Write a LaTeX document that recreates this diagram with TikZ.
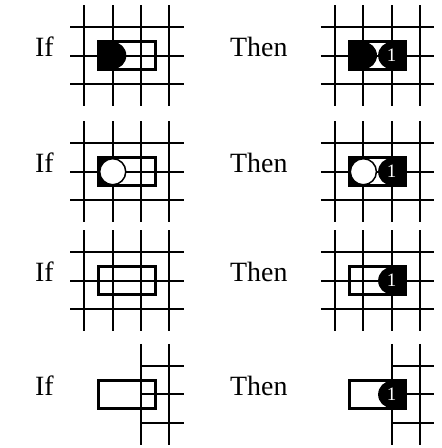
\documentclass[tikz,border=0pt]{standalone}
\usepackage{fontspec}
\setmainfont{Liberation Serif}

\begin{document}
\begin{tikzpicture}[
    gridline/.style={line width=2pt},
    domino/.style={line width=3pt},
    rowtext/.style={anchor=base west, inner sep=0pt, font=\fontsize{28}{28}\selectfont},
    onetext/.style={text=white, inner sep=0pt, font=\fontsize{19}{19}\selectfont}
]
    % Fix the page size
    \useasboundingbox (0,0) rectangle (15.56,-15.80);

    % Draw the texts
    \node[rowtext] (if1) at (1.23,-2.00) {If};
    \node[rowtext] (then1) at (8.11,-2.00) {Then};
    \node[rowtext] (if2) at (1.23,-6.10) {If};
    \node[rowtext] (then2) at (8.11,-6.10) {Then};
    \node[rowtext] (if3) at (1.23,-9.94) {If};
    \node[rowtext] (then3) at (8.11,-9.94) {Then};
    \node[rowtext] (if4) at (1.23,-13.95) {If};
    \node[rowtext] (then4) at (8.11,-13.95) {Then};

    % Draw the full grids of rows 1 to 3
    \foreach \xa/\xb in {2.475/6.475, 11.315/15.315} {
        \foreach \ya/\ym/\yb in {-0.178/-1.958/-3.738, -4.276/-6.056/-7.836, -8.12/-9.90/-11.68} {
            \draw[gridline] (\xa+0.5,\ya) -- (\xa+0.5,\yb);
            \draw[gridline] (\xa+1.5,\ya) -- (\xa+1.5,\yb);
            \draw[gridline] (\xa+2.5,\ya) -- (\xa+2.5,\yb);
            \draw[gridline] (\xa+3.5,\ya) -- (\xa+3.5,\yb);
            \draw[gridline] (\xa,\ym+1) -- (\xb,\ym+1);
            \draw[gridline] (\xa,\ym) -- (\xb,\ym);
            \draw[gridline] (\xa,\ym-1) -- (\xb,\ym-1);
        }
    }

    % Draw the right part of the grids of row 4
    \foreach \xa/\xb in {4.975/6.475, 13.815/15.315} {
        \draw[gridline] (\xa,-12.13) -- (\xa,-15.69);
        \draw[gridline] (\xa+1,-12.13) -- (\xa+1,-15.69);
        \draw[gridline] (\xa,-12.91) -- (\xb,-12.91);
        \draw[gridline] (\xa,-13.91) -- (\xb,-13.91);
        \draw[gridline] (\xa,-14.91) -- (\xb,-14.91);
    }

    % If 1
    \fill (3.475,-1.458) rectangle (3.975,-2.458);
    \fill (3.975,-1.958) circle (0.48);
    \draw[domino] (3.475,-1.458) rectangle (5.475,-2.458);

    % Then 1
    \fill (12.315,-1.458) rectangle (12.815,-2.458);
    \fill (12.815,-1.958) circle (0.48);
    \fill (13.815,-1.458) rectangle (14.315,-2.458);
    \fill (13.815,-1.958) circle (0.48);
    \node[onetext] (one1) at (13.815,-1.958) {1};
    \draw[domino] (12.315,-1.458) rectangle (14.315,-2.458);

    % If 2
    \fill (3.475,-5.556) rectangle (3.975,-6.556);
    \filldraw[fill=white, line width=1.5pt] (3.975,-6.056) circle (0.46);
    \draw[domino] (3.475,-5.556) rectangle (5.475,-6.556);

    % Then 2
    \fill (12.315,-5.556) rectangle (12.815,-6.556);
    \filldraw[fill=white, line width=1.5pt] (12.815,-6.056) circle (0.46);
    \fill (13.815,-5.556) rectangle (14.315,-6.556);
    \fill (13.815,-6.056) circle (0.48);
    \node[onetext] (one2) at (13.815,-6.056) {1};
    \draw[domino] (12.315,-5.556) rectangle (14.315,-6.556);

    % If 3
    \draw[domino] (3.475,-9.40) rectangle (5.475,-10.40);

    % Then 3
    \fill (13.815,-9.40) rectangle (14.315,-10.40);
    \fill (13.815,-9.90) circle (0.48);
    \node[onetext] (one3) at (13.815,-9.90) {1};
    \draw[domino] (12.315,-9.40) rectangle (14.315,-10.40);

    % If 4
    \draw[domino] (3.475,-13.41) rectangle (5.475,-14.41);

    % Then 4
    \fill (13.815,-13.41) rectangle (14.315,-14.41);
    \fill (13.815,-13.91) circle (0.48);
    \node[onetext] (one4) at (13.815,-13.91) {1};
    \draw[domino] (12.315,-13.41) rectangle (14.315,-14.41);

\end{tikzpicture}
\end{document}
